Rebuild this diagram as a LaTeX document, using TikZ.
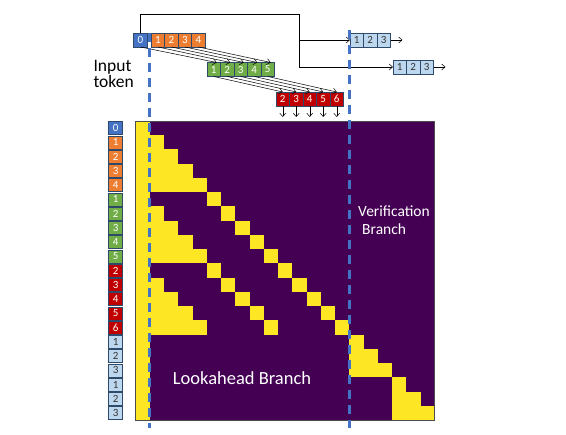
\documentclass[tikz,border=0pt]{standalone}
\usepackage{fontspec}
\setmainfont{Carlito}
\usetikzlibrary{positioning,arrows.meta}
\definecolor{tokblue}{HTML}{4472C4}
\definecolor{tokorange}{HTML}{ED7D31}
\definecolor{tokgreen}{HTML}{70AD47}
\definecolor{tokred}{HTML}{C00000}
\definecolor{toklight}{HTML}{BDD7EE}
\definecolor{boxline}{HTML}{2E4A6B}
\definecolor{matpurple}{HTML}{440154}
\definecolor{matyellow}{HTML}{FDE725}
\begin{document}
\begin{tikzpicture}[x=1pt, y=-1pt, font=\fontsize{11}{12}\selectfont]
        % Styles
        \tikzstyle{tokbox} = [rectangle, draw=boxline, line width=0.7pt, outer sep=0pt, minimum width=13.5pt, minimum height=14pt, inner sep=0pt, text=white]
        \tikzstyle{zero} = [tokbox, fill=tokblue]
        \tikzstyle{lvlone} = [tokbox, fill=tokorange]
        \tikzstyle{lvltwo} = [tokbox, fill=tokgreen]
        \tikzstyle{lvlthree} = [tokbox, fill=tokred]
        \tikzstyle{verify} = [tokbox, fill=toklight, text=black!80]
        \tikzstyle{arrow} = [line width=0.5pt, -{Straight Barb[length=3.5pt, width=6pt]}]
        \tikzstyle{branch} = [draw=tokblue, line width=2.8pt, dash pattern=on 9pt off 6pt]
        \tikzstyle{maskcell} = [fill=matyellow]
        \tikzstyle{inmask} = [text=white]

        \useasboundingbox (0,0) rectangle (566,435);

        % Attention mask
        \begin{scope}[shift={(135.5,121)}, x=14.25pt, y=-14.25pt]
            \fill [matpurple] (0,0) rectangle (21,21);
            \fill [maskcell] (0,0) rectangle (1,21);
            \foreach \r in {1,...,4}
                \fill [maskcell] (1,\r) rectangle (\r+1,\r+1);
            \foreach \k in {1,...,5} {
                \fill [maskcell] (4+\k,4+\k) rectangle (5+\k,5+\k);
                \fill [maskcell] (4+\k,9+\k) rectangle (5+\k,10+\k);
                \fill [maskcell] (9+\k,9+\k) rectangle (10+\k,10+\k);
            }
            \foreach \k in {2,...,5} {
                \fill [maskcell] (1,4+\k) rectangle (\k,5+\k);
                \fill [maskcell] (1,9+\k) rectangle (\k,10+\k);
            }
            \foreach \k in {1,2,3} {
                \fill [maskcell] (15,14+\k) rectangle (15+\k,15+\k);
                \fill [maskcell] (18,17+\k) rectangle (18+\k,18+\k);
            }
            \draw [black!70, line width=0.6pt] (0,0) rectangle (21,21);

            % Row labels
            \foreach \lbl/\st [count=\r from 0] in {0/zero, 1/lvlone, 2/lvlone, 3/lvlone, 4/lvlone,
                    1/lvltwo, 2/lvltwo, 3/lvltwo, 4/lvltwo, 5/lvltwo,
                    2/lvlthree, 3/lvlthree, 4/lvlthree, 5/lvlthree, 6/lvlthree,
                    1/verify, 2/verify, 3/verify, 1/verify, 2/verify, 3/verify}
                \node (lab\r) [\st, minimum height=13pt] at (-1.4,\r+0.5) {\lbl};
        \end{scope}

        % Input tokens and guesses
        \node (t0) [zero] at (140.5,40) {0};
        \node (o1) [lvlone, right=4pt of t0] {1};
        \node (o2) [lvlone, right=0pt of o1] {2};
        \node (o3) [lvlone, right=0pt of o2] {3};
        \node (o4) [lvlone, right=0pt of o3] {4};

        \node (g1) [lvltwo] at (213.75,69.5) {1};
        \node (g2) [lvltwo, right=0pt of g1] {2};
        \node (g3) [lvltwo, right=0pt of g2] {3};
        \node (g4) [lvltwo, right=0pt of g3] {4};
        \node (g5) [lvltwo, right=0pt of g4] {5};

        \node (r2) [lvlthree] at (282.75,99) {2};
        \node (r3) [lvlthree, right=0pt of r2] {3};
        \node (r4) [lvlthree, right=0pt of r3] {4};
        \node (r5) [lvlthree, right=0pt of r4] {5};
        \node (r6) [lvlthree, right=0pt of r5] {6};

        \node (v1) [verify] at (356.75,40) {1};
        \node (v2) [verify, right=0pt of v1] {2};
        \node (v3) [verify, right=0pt of v2] {3};

        \node (w1) [verify] at (399.75,67) {1};
        \node (w2) [verify, right=0pt of w1] {2};
        \node (w3) [verify, right=0pt of w2] {3};

        % Texts
        \node (input) [anchor=west, align=left, font=\fontsize{17.5}{16}\selectfont] at (90,74) {Input\\token};
        \node (verif) [inmask, align=left, font=\fontsize{15.5}{18}\selectfont] at (394,220) {Verification\\\hspace{4pt}Branch};
        \node (look) [inmask, font=\fontsize{18.5}{20}\selectfont] at (242,378) {Lookahead Branch};

        % Arrows
        \draw [arrow] (t0.south) -- ([xshift=3pt]g1.north);
        \draw [arrow] (o1.south) -- ([xshift=3pt]g2.north);
        \draw [arrow] (o2.south) -- ([xshift=3pt]g3.north);
        \draw [arrow] (o3.south) -- ([xshift=3pt]g4.north);
        \draw [arrow] (o4.south) -- ([xshift=3pt]g5.north);

        \draw [arrow] (g1.south) -- (r2.north);
        \draw [arrow] (g2.south) -- (r3.north);
        \draw [arrow] (g3.south) -- (r4.north);
        \draw [arrow] (g4.south) -- (r5.north);
        \draw [arrow] (g5.south) -- (r6.north);

        \foreach \n in {2,...,6} {
            \coordinate [below=11pt of r\n] (d\n);
            \draw [arrow] (r\n) -- (d\n);
        }

        % Verification branch
        \coordinate (fork) at (299,14);
        \draw [arrow] (t0.north) |- (fork) |- (w1.west);
        \draw [arrow] (fork |- v1.west) -- (v1.west);
        \coordinate [right=12pt of v3] (vend);
        \draw [arrow] (v3) -- (vend);
        \coordinate [right=12pt of w3] (wend);
        \draw [arrow] (w3) -- (wend);

        % Branch separators
        \coordinate (ltop) at (149.75,33);
        \coordinate (lbot) at (149.75,428);
        \coordinate (rtop) at (349.25,30);
        \coordinate (rbot) at (349.25,428);
        \draw [branch] (ltop) -- (lbot);
        \draw [branch] (rtop) -- (rbot);

    \end{tikzpicture}
\end{document}
